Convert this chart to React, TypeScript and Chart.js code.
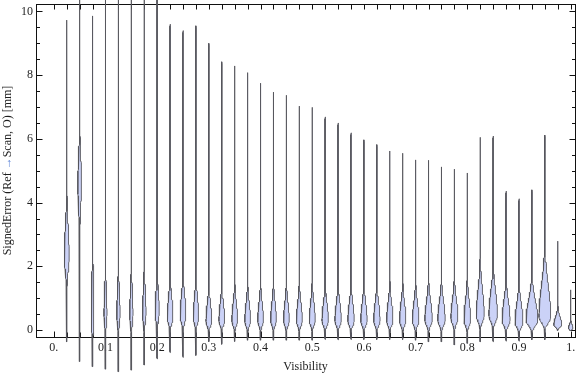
import React, { useEffect, useRef } from "react";
import { Chart, registerables } from "chart.js";

Chart.register(...registerables);

// Violin categories (Visibility bins)
const visibility = [
  0.025, 0.05, 0.075, 0.1, 0.125, 0.15, 0.175, 0.2, 0.225, 0.25,
  0.275, 0.3, 0.325, 0.35, 0.375, 0.4, 0.425, 0.45, 0.475, 0.5,
  0.525, 0.55, 0.575, 0.6, 0.625, 0.65, 0.675, 0.7, 0.725, 0.75,
  0.775, 0.8, 0.825, 0.85, 0.875, 0.9, 0.925, 0.95, 0.975, 1.0,
];

// Largest signed error per bin [mm]
const errMax = [
  9.73, 11.8, 9.86, 12.4, 11.2, 12.9, 11.5, 10.9, 9.6, 9.4,
  9.55, 9.0, 8.42, 8.29, 8.08, 7.75, 7.47, 7.37, 7.03, 6.99,
  6.69, 6.5, 6.19, 5.97, 5.82, 5.62, 5.55, 5.34, 5.33, 5.12,
  5.05, 4.93, 6.05, 6.09, 4.36, 4.12, 4.4, 6.12, 2.79, 1.26,
];

// Smallest signed error per bin [mm]
const errMin = [
  -0.37, -0.99, -1.15, -1.23, -1.31, -1.26, -1.1, -0.91, -0.71, -0.86,
  -0.8, -0.37, -0.45, -0.36, -0.32, -0.32, -0.32, -0.32, -0.32, -0.32,
  -0.3, -0.31, -0.3, -0.3, -0.3, -0.3, -0.3, -0.32, -0.37, -0.37,
  -0.47, -0.42, -0.37, -0.37, -0.35, -0.35, -0.31, -0.31, -0.02, -0.02,
];

// Most frequent signed error (widest point of each violin) [mm]
const errMode = [
  2.3, 4.6, 0.5, 0.5, 0.5, 0.5, 0.55, 0.6, 0.4, 0.45,
  0.4, 0.28, 0.3, 0.3, 0.29, 0.3, 0.31, 0.3, 0.3, 0.31,
  0.3, 0.3, 0.3, 0.3, 0.3, 0.3, 0.3, 0.3, 0.32, 0.32,
  0.38, 0.31, 0.47, 0.47, 0.31, 0.25, 0.31, 0.41, 0.16, 0.06,
];

// Peak density half-width (in Visibility units)
const densityPeak = [
  0.0048, 0.0037, 0.0027, 0.003, 0.0033, 0.0033, 0.0035, 0.004, 0.0055, 0.0055,
  0.0052, 0.0056, 0.0056, 0.0056, 0.0056, 0.0056, 0.0056, 0.0056, 0.0058, 0.0058,
  0.0062, 0.0062, 0.0062, 0.0062, 0.0062, 0.0062, 0.0062, 0.0064, 0.0072, 0.0072,
  0.0068, 0.0064, 0.0077, 0.0083, 0.0077, 0.0077, 0.0114, 0.0114, 0.0077, 0.0045,
];

// Spread of the density above / below the mode [mm]
const spreadAbove = [
  0.9, 0.8, 1.0, 0.7, 0.7, 0.7, 0.65, 0.6, 0.6, 0.62,
  0.6, 0.52, 0.52, 0.52, 0.52, 0.52, 0.52, 0.52, 0.52, 0.52,
  0.52, 0.52, 0.52, 0.52, 0.52, 0.52, 0.52, 0.52, 0.55, 0.55,
  0.55, 0.58, 0.75, 0.7, 0.58, 0.55, 0.6, 0.95, 0.24, 0.11,
];
const spreadBelow = [
  0.45, 0.7, 0.45, 0.3, 0.3, 0.3, 0.3, 0.3, 0.2, 0.22,
  0.2, 0.16, 0.16, 0.16, 0.16, 0.16, 0.16, 0.16, 0.16, 0.16,
  0.16, 0.16, 0.16, 0.16, 0.16, 0.16, 0.16, 0.16, 0.17, 0.17,
  0.18, 0.17, 0.2, 0.2, 0.17, 0.16, 0.17, 0.18, 0.07, 0.04,
];

const xTickValues = [0, 0.1, 0.2, 0.3, 0.4, 0.5, 0.6, 0.7, 0.8, 0.9, 1.0];
const xTickLabels = ["0.", "0.1", "0.2", "0.3", "0.4", "0.5", "0.6", "0.7", "0.8", "0.9", "1."];
const yTickValues = [0, 2, 4, 6, 8, 10];
const yTickLabels = ["0", "2", "4", "6", "8", "10"];

const X_MIN = -0.03444;
const X_MAX = 1.00832;
const Y_MIN = -0.2198;
const Y_MAX = 10.235;

const FONT = '"Liberation Serif", "Times New Roman", serif';
const TEXT = "#1e1e1e";
const FILL = "rgb(203,210,247)";
const EDGE = "rgba(85,85,92,0.88)";

function violinPoints(i: number) {
  const c = visibility[i];
  const lo = errMin[i];
  const hi = errMax[i];
  const m = errMode[i];
  const W = densityPeak[i];
  const su = spreadAbove[i];
  const sl = spreadBelow[i];
  const floor = 0.0004;
  const half = (yv: number) => {
    const d = yv - m;
    const s = d >= 0 ? su : sl;
    return Math.max(floor, W * Math.exp(-0.5 * (d / s) * (d / s)));
  };
  const a = Math.max(lo + 0.03, m - 5 * sl);
  const b = Math.min(hi - 0.06, m + 6 * su);
  const ys: number[] = [lo + 0.03];
  const N = 160;
  for (let k = 0; k <= N; k++) ys.push(a + ((b - a) * k) / N);
  ys.push(hi - 0.06);
  const pts: { x: number; y: number }[] = [{ x: c, y: lo }];
  for (const yv of ys) pts.push({ x: c + half(yv), y: yv });
  pts.push({ x: c, y: hi });
  for (let k = ys.length - 1; k >= 0; k--) pts.push({ x: c - half(ys[k]), y: ys[k] });
  pts.push({ x: c, y: lo });
  return pts;
}

const framePlugin = {
  id: "mmaFrame",
  beforeDatasetsDraw(chart: any) {
    const { ctx, chartArea, scales } = chart;
    const { left, right, top, bottom } = chartArea;
    const xs = scales.x;
    const ysc = scales.y;
    ctx.save();
    ctx.strokeStyle = "#111";
    ctx.lineWidth = 1;
    ctx.strokeRect(left + 0.5, top + 0.5, right - left, bottom - top);
    ctx.beginPath();
    for (let k = 0; k <= 40; k++) {
      const v = k * 0.025;
      const px = Math.round(xs.getPixelForValue(v)) + 0.5;
      const major = k % 4 === 0;
      ctx.moveTo(px, bottom + 0.5);
      ctx.lineTo(px, bottom + 0.5 - (major ? 6 : 5));
      ctx.moveTo(px, top + 0.5);
      ctx.lineTo(px, top + 0.5 + 5);
    }
    for (let k = 0; k <= 20; k++) {
      const v = k * 0.5;
      const py = Math.round(ysc.getPixelForValue(v)) + 0.5;
      const major = k % 4 === 0;
      const len = major ? 6 : 3.5;
      ctx.moveTo(left + 0.5, py);
      ctx.lineTo(left + 0.5 + len, py);
      ctx.moveTo(right + 0.5, py);
      ctx.lineTo(right + 0.5 - len, py);
    }
    ctx.stroke();
    ctx.restore();
  },
  afterDraw(chart: any) {
    const { ctx, chartArea } = chart;
    const cy = (chartArea.top + chartArea.bottom) / 2;
    ctx.save();
    ctx.translate(8, cy);
    ctx.rotate(-Math.PI / 2);
    ctx.font = `12px ${FONT}`;
    ctx.textBaseline = "middle";
    ctx.textAlign = "left";
    const parts: [string, string][] = [
      ["SignedError (Ref ", TEXT],
      ["\u2192", "rgb(90,130,215)"],
      ["Scan, O) [mm]", TEXT],
    ];
    const total = parts.reduce((s, p) => s + ctx.measureText(p[0]).width, 0);
    let x0 = -total / 2;
    for (const [t, col] of parts) {
      ctx.fillStyle = col;
      ctx.fillText(t, x0, 0);
      x0 += ctx.measureText(t).width;
    }
    ctx.restore();
  },
};

export default function App() {
  const ref = useRef<HTMLCanvasElement | null>(null);
  useEffect(() => {
    if (!ref.current) return;
    const datasets = visibility.map((v, i) => ({
      label: `V=${v}`,
      data: violinPoints(i),
      borderColor: EDGE,
      backgroundColor: FILL,
      borderWidth: 1,
      borderJoinStyle: "round" as const,
      fill: "shape" as const,
      pointRadius: 0,
      pointHoverRadius: 0,
      tension: 0,
      clip: false as const,
    }));
    const chart = new Chart(ref.current, {
      type: "line",
      data: { datasets },
      options: {
        animation: false,
        responsive: false,
        events: [],
        layout: { padding: { top: 4, right: 1, left: 0, bottom: 0 } },
        plugins: { legend: { display: false }, tooltip: { enabled: false } },
        scales: {
          x: {
            type: "linear",
            min: X_MIN,
            max: X_MAX,
            afterBuildTicks: (s: any) => {
              s.ticks = xTickValues.map((value) => ({ value }));
            },
            afterFit: (s: any) => {
              s.height = 40;
              s.paddingLeft = 0;
              s.paddingRight = 0;
            },
            ticks: {
              autoSkip: false,
              maxRotation: 0,
              padding: 4,
              color: TEXT,
              font: { family: FONT, size: 12 },
              callback: (val: any) => {
                const idx = xTickValues.findIndex((t) => Math.abs(t - Number(val)) < 1e-9);
                return idx >= 0 ? xTickLabels[idx] : "";
              },
            },
            grid: { display: false, drawTicks: false },
            border: { display: false },
            title: {
              display: true,
              text: "Visibility",
              color: TEXT,
              font: { family: FONT, size: 12 },
              padding: { top: 0, bottom: 3 },
            },
          },
          y: {
            type: "linear",
            min: Y_MIN,
            max: Y_MAX,
            afterBuildTicks: (s: any) => {
              s.ticks = yTickValues.map((value) => ({ value }));
            },
            afterFit: (s: any) => {
              s.width = 36;
              s.paddingTop = 0;
              s.paddingBottom = 0;
            },
            ticks: {
              padding: 3,
              color: TEXT,
              font: { family: FONT, size: 12 },
              callback: (val: any) => {
                const idx = yTickValues.findIndex((t) => Math.abs(t - Number(val)) < 1e-9);
                return idx >= 0 ? yTickLabels[idx] : "";
              },
            },
            grid: { display: false, drawTicks: false },
            border: { display: false },
          },
        },
      },
      plugins: [framePlugin],
    });
    return () => chart.destroy();
  }, []);
  return (
    <div style={{ position: "fixed", left: 0, top: 0, width: 576, height: 377, background: "#fff" }}>
      <canvas ref={ref} width={576} height={377} style={{ display: "block" }} />
    </div>
  );
}
